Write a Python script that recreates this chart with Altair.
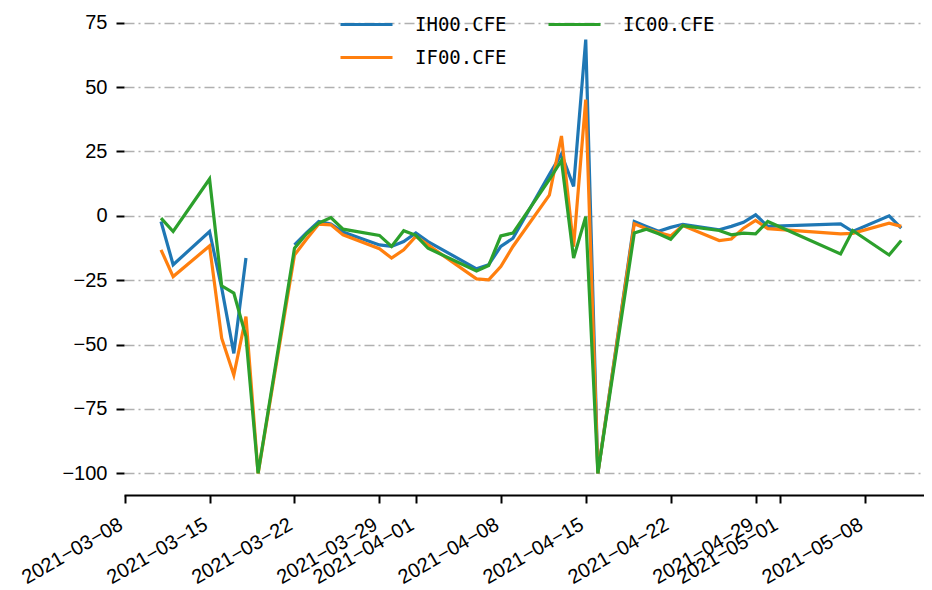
import altair as alt
import pandas as pd

dates = ["2021-03-11", "2021-03-12", "2021-03-15", "2021-03-16", "2021-03-17", "2021-03-18",
         "2021-03-19", "2021-03-22", "2021-03-23", "2021-03-24", "2021-03-25", "2021-03-26",
         "2021-03-29", "2021-03-30", "2021-03-31", "2021-04-01", "2021-04-02", "2021-04-06",
         "2021-04-07", "2021-04-08", "2021-04-09", "2021-04-12", "2021-04-13", "2021-04-14",
         "2021-04-15", "2021-04-16", "2021-04-19", "2021-04-20", "2021-04-21", "2021-04-22",
         "2021-04-23", "2021-04-26", "2021-04-27", "2021-04-28", "2021-04-29", "2021-04-30",
         "2021-05-06", "2021-05-07", "2021-05-10", "2021-05-11"]

ih00 = [-2.2, -19.0, -6.1, -28.0, -53.4, -16.4,
        None, -11.3, -6.5, -2.2, -3.2, -6.3,
        -11.3, -11.9, -10.0, -6.7, -10.0, -20.6,
        -19.0, -11.9, -8.7, 16.0, 24.0, 11.4,
        68.4, -100.0, -2.2, -4.1, -6.0, -4.5,
        -3.3, -5.4, -4.1, -2.5, 0.4, -4.1,
        -3.1, -6.1, 0.0, -4.8]

if00 = [-13.2, -23.6, -11.7, -47.5, -61.8, -39.1,
        -100.0, -15.2, -9.0, -3.2, -3.5, -7.4,
        -12.8, -16.4, -13.2, -8.0, -11.3, -24.5,
        -24.9, -19.7, -11.9, 8.0, 31.0, -12.0,
        45.1, -100.0, -3.1, -5.0, -6.5, -7.8,
        -3.8, -9.6, -9.0, -4.8, -1.8, -5.0,
        -7.0, -6.8, -2.9, -4.1]

ic00 = [-0.9, -6.1, 14.3, -27.2, -30.0, -46.9,
        -100.0, -12.6, -7.0, -2.8, -0.7, -5.2,
        -7.6, -11.9, -5.8, -7.6, -12.6, -21.4,
        -19.3, -7.8, -6.7, 14.0, 21.5, -16.4,
        -0.3, -100.0, -6.7, -5.2, -7.0, -9.1,
        -3.8, -5.7, -7.4, -6.7, -7.0, -2.2,
        -14.8, -5.7, -15.2, -9.6]

series_names = ["IH00.CFE", "IF00.CFE", "IC00.CFE"]
series_values = [ih00, if00, ic00]
series_colors = ["#1f77b4", "#ff7f0e", "#2ca02c"]

y_ticks = [-100, -75, -50, -25, 0, 25, 50, 75]
x_ticks = [(3, 8), (3, 15), (3, 22), (3, 29), (4, 1), (4, 8), (4, 15), (4, 22), (4, 29), (5, 1), (5, 8)]

rows = []
for name, vals in zip(series_names, series_values):
    seg = 0
    for d, v in zip(dates, vals):
        if v is None:
            seg += 1
            continue
        rows.append({"date": d + "T00:00:00", "value": v, "series": name, "seg": f"{name}-{seg}"})
df = pd.DataFrame(rows)

color_scale = alt.Scale(domain=series_names, range=series_colors)

legend = alt.Legend(
    orient="none", legendX=215, legendY=-4, columns=2, title=None,
    symbolType="stroke", symbolSize=2704, symbolStrokeWidth=3,
    labelFont="DejaVu Sans Mono", labelFontSize=19, labelColor="black",
    labelOffset=21, columnPadding=40, rowPadding=12, clipHeight=21, padding=0,
)

x_enc = alt.X(
    "date:T",
    scale=alt.Scale(domain=[alt.DateTime(year=2021, month=3, date=7, hours=22, minutes=48),
                            alt.DateTime(year=2021, month=5, date=12, hours=21)]),
    axis=alt.Axis(
        values=[alt.DateTime(year=2021, month=m, date=d) for m, d in x_ticks],
        format="%Y\u2212%m\u2212%d", labelAngle=-30, labelAlign="right", labelBaseline="top",
        labelOverlap=False, labelFont="Liberation Sans", labelFontSize=20, labelColor="black",
        labelPadding=11, labelOffset=-9, grid=False, domainColor="black", domainWidth=2,
        tickColor="black", tickWidth=2, tickSize=8, title=None,
    ),
)

y_enc = alt.Y(
    "value:Q",
    scale=alt.Scale(domain=[-108.4, 76.8], nice=False, zero=False),
    axis=alt.Axis(
        values=y_ticks, grid=True, gridColor="#b0b0b0", gridDash=[10, 4, 2, 4], gridWidth=1.5,
        domain=False, tickColor="black", tickWidth=2, tickSize=8,
        labelFont="Liberation Sans", labelFontSize=20, labelColor="black", labelPadding=9, title=None,
    ),
)

layers = []
for name in series_names:
    layers.append(
        alt.Chart(df[df["series"] == name]).mark_line(strokeWidth=3.2).encode(
            x=x_enc, y=y_enc,
            color=alt.Color("series:N", scale=color_scale, legend=legend),
            detail="seg:N",
        )
    )

chart = alt.layer(*layers).properties(
    width=800, height=477,
    autosize=alt.AutoSizeParams(type="none"),
    padding={"left": 116, "top": 10, "right": 0, "bottom": 94},
).configure_view(strokeWidth=0)

chart.save("out.html", embed_options={"renderer": "svg", "actions": False})
